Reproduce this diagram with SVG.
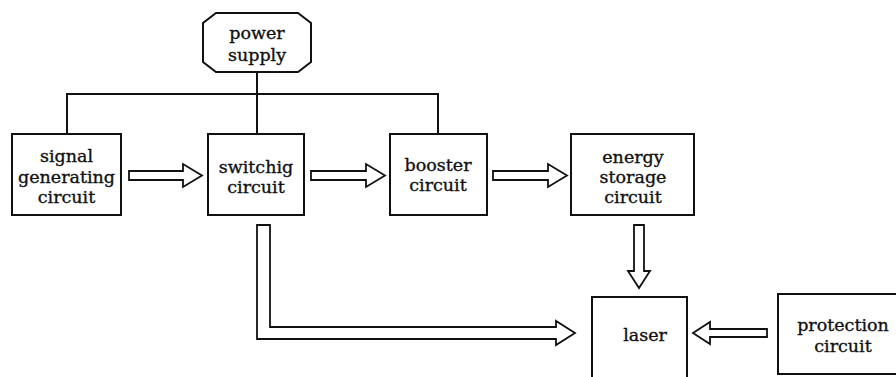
<svg xmlns="http://www.w3.org/2000/svg" width="896" height="377" viewBox="0 0 896 377">
<style>
.box{fill:#fff;stroke:#111;stroke-width:2}
.ln{fill:none;stroke:#111;stroke-width:2}
.arr{fill:#fff;stroke:#111;stroke-width:1.8;stroke-linejoin:miter}
text{font-family:"DejaVu Serif","Liberation Serif",serif;font-size:17.5px;fill:#111;stroke:#111;stroke-width:0.35;text-anchor:middle}
</style>
<rect width="896" height="377" fill="#fff"/>
<g id="connectors">
<path class="ln" d="M257,72 V133 M67,133 V94 H438 V133"/>
<polygon class="arr" points="129,171 183,171 183,164 202,175.5 183,187 183,180 129,180"/>
<polygon class="arr" points="311,171 366,171 366,164 385,175.5 366,187 366,180 311,180"/>
<polygon class="arr" points="493,171 548,171 548,164 567,175.5 548,187 548,180 493,180"/>
<polygon class="arr" points="634,225 644,225 644,271 650,271 639,288 628,271 634,271"/>
<polygon class="arr" points="257,225 270,225 270,327 556,327 556,321 575,333 556,345 556,339 257,339"/>
<polygon class="arr" points="767,329 710,329 710,322 693,333 710,344 710,337 767,337"/>
</g>
<g id="power-supply">
<polygon class="box" points="216,13 298,13 311,23 311,62 298,72 216,72 203,62 203,23"/>
<text x="257" y="39">power</text>
<text x="257" y="61">supply</text>
</g>
<g id="signal-generating-circuit">
<rect class="box" x="12" y="134" width="109" height="81"/>
<text x="66.5" y="162">signal</text>
<text x="66.5" y="183">generating</text>
<text x="66.5" y="203">circuit</text>
</g>
<g id="switching-circuit">
<rect class="box" x="208" y="134" width="96" height="81"/>
<text x="256" y="173">switchig</text>
<text x="256" y="193">circuit</text>
</g>
<g id="booster-circuit">
<rect class="box" x="390" y="134" width="97" height="81"/>
<text x="438" y="171">booster</text>
<text x="438" y="191">circuit</text>
</g>
<g id="energy-storage-circuit">
<rect class="box" x="571" y="134" width="123" height="81"/>
<text x="633" y="163">energy</text>
<text x="633" y="183">storage</text>
<text x="633" y="203">circuit</text>
</g>
<g id="laser">
<path class="ln" d="M592,380 V297 H687 V380"/>
<text x="645" y="341">laser</text>
</g>
<g id="protection-circuit">
<path class="ln" d="M897,294 H778 V374 H897"/>
<text x="843" y="331">protection</text>
<text x="843" y="352">circuit</text>
</g>
</svg>
